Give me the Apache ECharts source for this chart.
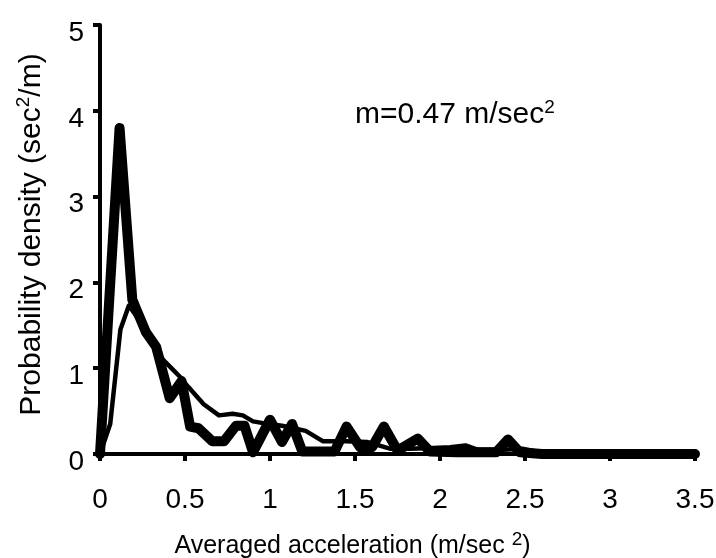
<html>
<head>
  <meta charset="utf-8">
  <style>
    html, body { margin: 0; padding: 0; background: #fff; }
    #container { width: 716px; height: 558px; }
  </style>
</head>
<body>
<div id="container"></div>
<script type="text/javascript" src="https://cdn.jsdelivr.net/npm/echarts@6/dist/echarts.min.js"></script>
<script type="text/javascript">
  var dom = document.getElementById('container');
  var myChart = echarts.init(dom, null, { renderer: 'canvas' });

  // measured histogram (thick line)
  const histX = [0, 0.115, 0.19, 0.27, 0.33, 0.41, 0.48, 0.53, 0.58, 0.66, 0.73, 0.8, 0.85, 0.9, 1.0, 1.07, 1.13, 1.19, 1.3, 1.38, 1.45, 1.53, 1.6, 1.67, 1.75, 1.87, 1.94, 2.1, 2.33, 2.4, 2.47, 2.6, 3.5];
  const histY = [0, 3.8, 1.8, 1.42, 1.25, 0.65, 0.85, 0.32, 0.3, 0.15, 0.15, 0.33, 0.33, 0.02, 0.4, 0.14, 0.35, 0.03, 0.03, 0.03, 0.32, 0.08, 0.08, 0.32, 0.04, 0.18, 0.03, 0.02, 0.02, 0.17, 0.02, 0, 0];

  // second distribution (thin line)
  const thinX = [0, 0.06, 0.12, 0.17, 0.27, 0.37, 0.42, 0.47, 0.52, 0.61, 0.7, 0.78, 0.84, 0.9, 0.96, 1.07, 1.14, 1.21, 1.31, 1.39, 1.45, 1.57, 1.64, 1.71, 1.82, 1.96, 2.06, 2.15, 2.22, 2.37, 2.49, 2.59, 2.7, 3.5];
  const thinY = [0, 0.35, 1.45, 1.73, 1.45, 1.1, 1.0, 0.9, 0.78, 0.58, 0.45, 0.47, 0.45, 0.38, 0.36, 0.33, 0.3, 0.27, 0.15, 0.15, 0.15, 0.14, 0.1, 0.06, 0.06, 0.07, 0.08, 0.1, 0.05, 0.05, 0.06, 0.02, 0, 0];

  const xTicks = [0, 0.5, 1, 1.5, 2, 2.5, 3, 3.5];
  const yTicks = [0, 1, 2, 3, 4, 5];

  const font = 'Liberation Sans, Arial, sans-serif';
  // superscript style shared by the three labels
  const sup = { fontSize: 19, fontFamily: font, color: '#000', fill: '#000', verticalAlign: 'top', lineHeight: 14 };

  function pairs(xs, ys) {
    return xs.map((x, i) => [x, ys[i]]);
  }

  var option = {
    animation: false,
    backgroundColor: '#fff',
    grid: { left: 100, right: 21, top: 25, bottom: 104, containLabel: false, outerBoundsMode: 'none' },
    xAxis: {
      type: 'value',
      min: xTicks[0],
      max: xTicks[xTicks.length - 1],
      interval: 0.5,
      splitLine: { show: false },
      axisLine: { lineStyle: { color: '#000', width: 4 } },
      axisTick: { length: 7, lineStyle: { color: '#000', width: 4 } },
      axisLabel: { color: '#000', fontSize: 28, fontFamily: font, margin: 32 },
      name: 'Averaged acceleration (m/sec {sup|2})',
      nameLocation: 'middle',
      nameGap: 76,
      nameTextStyle: {
        color: '#000', fontSize: 25, fontFamily: font, lineHeight: 32, padding: [0, 90, 0, 0],
        rich: { sup: sup }
      }
    },
    yAxis: {
      type: 'value',
      min: yTicks[0],
      max: yTicks[yTicks.length - 1],
      interval: 1,
      splitLine: { show: false },
      axisLine: { show: true, lineStyle: { color: '#000', width: 4 } },
      axisTick: { show: true, length: 7, lineStyle: { color: '#000', width: 4 } },
      axisLabel: { color: '#000', fontSize: 28, fontFamily: font, margin: 16, verticalAlign: 'top', lineHeight: 16 },
      name: 'Probability density (sec{sup|2}/m)',
      nameLocation: 'middle',
      nameGap: 50,
      nameTextStyle: {
        color: '#000', fontSize: 30, fontFamily: font, lineHeight: 36, padding: [0, 0, 0, 10],
        rich: { sup: sup }
      }
    },
    graphic: [{
      type: 'text',
      left: 355,
      top: 98,
      style: {
        text: 'm=0.47 m/sec{sup|2}',
        fill: '#000',
        fontSize: 30,
        fontFamily: font,
        lineHeight: 34,
        rich: { sup: sup }
      }
    }],
    series: [
      {
        name: 'thin',
        type: 'line',
        data: pairs(thinX, thinY),
        symbol: 'none',
        lineStyle: { color: '#000', width: 4.5, join: 'round', cap: 'round' }
      },
      {
        name: 'histogram',
        type: 'line',
        data: pairs(histX, histY),
        symbol: 'none',
        lineStyle: { color: '#000', width: 10, join: 'round', cap: 'round' }
      }
    ]
  };

  myChart.setOption(option);
</script>
</body>
</html>
